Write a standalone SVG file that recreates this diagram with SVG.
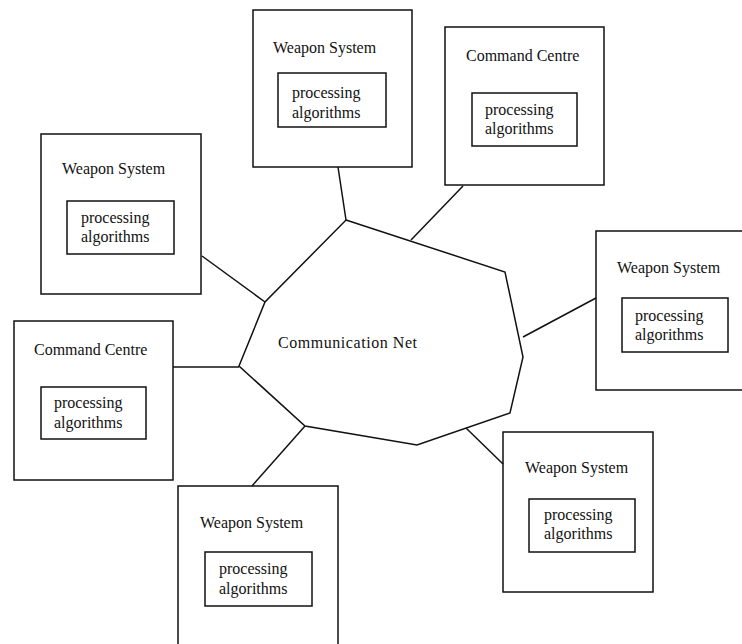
<svg xmlns="http://www.w3.org/2000/svg" width="742" height="644" viewBox="0 0 742 644">
<style>
.box{fill:none;stroke:#111;stroke-width:1.5}
.ln{fill:none;stroke:#111;stroke-width:1.5;stroke-linejoin:miter}
text{font-family:"Liberation Serif","Times New Roman",serif;font-size:16px;fill:#111}
</style>
<rect width="742" height="644" fill="#fff"/>
<g id="connectors">
<polygon id="net-outline" class="ln" points="346,220 505,272 523,357 510,413 417,445 305,426 239,366 265,302"/>
<line class="ln" x1="338" y1="167" x2="346" y2="220"/>
<line class="ln" x1="463" y1="186" x2="411" y2="240"/>
<line class="ln" x1="202" y1="256" x2="265" y2="302"/>
<line class="ln" x1="173" y1="367" x2="239" y2="367"/>
<line class="ln" x1="305" y1="426" x2="252" y2="486"/>
<line class="ln" x1="466" y1="428" x2="503" y2="464"/>
<line class="ln" x1="523" y1="337" x2="596" y2="298"/>
</g>
<g id="net"><text x="278" y="348" textLength="139" lengthAdjust="spacing">Communication Net</text></g>
<g id="ws-top">
<rect class="box" x="253" y="10" width="159" height="157"/>
<text x="273" y="53">Weapon System</text>
<rect class="box" x="278" y="73" width="108" height="54"/>
<text x="292" y="98">processing</text><text x="292" y="118">algorithms</text>
</g>
<g id="cc-top">
<rect class="box" x="445" y="27" width="159" height="158"/>
<text x="466" y="61">Command Centre</text>
<rect class="box" x="472" y="93" width="105" height="53"/>
<text x="485" y="115">processing</text><text x="485" y="134">algorithms</text>
</g>
<g id="ws-left">
<rect class="box" x="41" y="134" width="160" height="160"/>
<text x="62" y="174">Weapon System</text>
<rect class="box" x="67" y="201" width="107" height="53"/>
<text x="81" y="223">processing</text><text x="81" y="242">algorithms</text>
</g>
<g id="cc-left">
<rect class="box" x="14" y="321" width="159" height="159"/>
<text x="34" y="355">Command Centre</text>
<rect class="box" x="41" y="387" width="105" height="52"/>
<text x="54" y="408">processing</text><text x="54" y="428">algorithms</text>
</g>
<g id="ws-right">
<rect class="box" x="596" y="231" width="150" height="159"/>
<text x="617" y="273">Weapon System</text>
<rect class="box" x="622" y="298" width="106" height="54"/>
<text x="635" y="321">processing</text><text x="635" y="340">algorithms</text>
</g>
<g id="ws-bottom-right">
<rect class="box" x="503" y="432" width="150" height="160"/>
<text x="525" y="473">Weapon System</text>
<rect class="box" x="529" y="499" width="106" height="53"/>
<text x="544" y="520">processing</text><text x="544" y="539">algorithms</text>
</g>
<g id="ws-bottom">
<rect class="box" x="178" y="486" width="160" height="170"/>
<text x="200" y="528">Weapon System</text>
<rect class="box" x="205" y="552" width="107" height="54"/>
<text x="219" y="574">processing</text><text x="219" y="594">algorithms</text>
</g>
</svg>
